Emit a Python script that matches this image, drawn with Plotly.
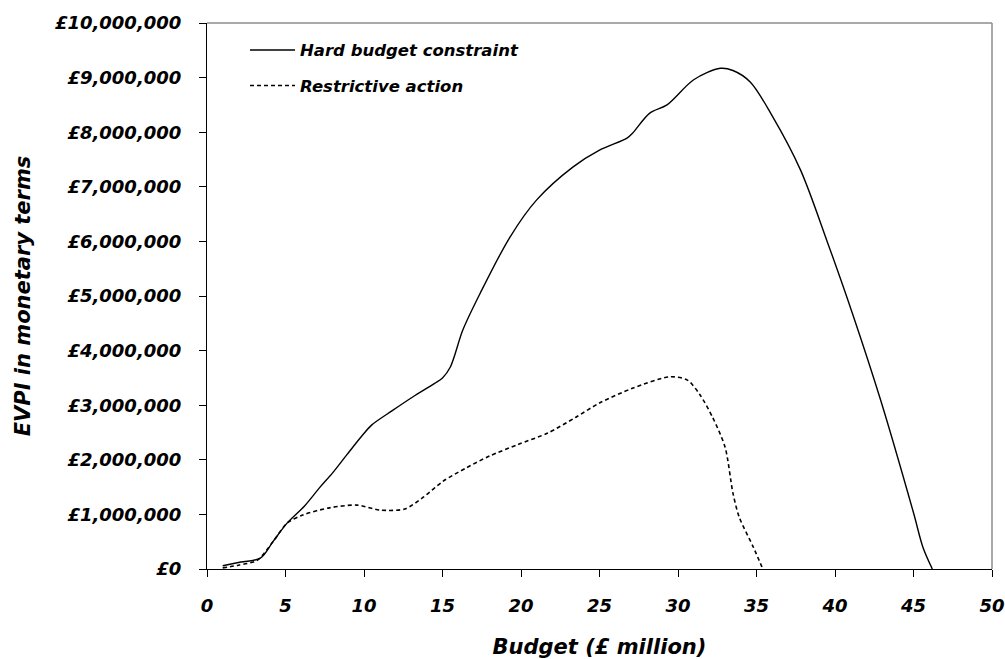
import plotly.graph_objects as go
import numpy as np

# Budget (£ million) and EVPI (£ million)
hard_x = [1.0, 2.0, 3.4, 4.2, 5.1, 6.2, 7.2, 8.0, 8.9, 9.9, 10.5, 11.8, 13.1, 14.5, 15.0,
          15.5, 16.3, 17.4, 19.3, 21.0, 23.3, 25.0, 26.75, 27.1, 28.2, 29.3, 31.0, 32.7,
          33.5, 34.6, 36.0, 37.8, 39.5, 41.1, 42.9, 45.0, 45.6, 46.2]
hard_y = [0.06, 0.12, 0.2, 0.5, 0.84, 1.15, 1.5, 1.76, 2.09, 2.45, 2.64, 2.9, 3.15, 3.4, 3.5,
          3.7, 4.38, 5.05, 6.08, 6.76, 7.36, 7.67, 7.89, 7.98, 8.35, 8.5, 8.96, 9.17,
          9.13, 8.92, 8.3, 7.31, 6.0, 4.69, 3.1, 1.03, 0.4, 0.0]

restr_x = [1.0, 2.0, 3.2, 4.2, 5.1, 6.1, 7.8, 9.55, 11.0, 12.6, 13.8, 15.0, 16.5, 18.0, 19.8,
           21.7, 23.5, 25.0, 27.1, 29.5, 30.6, 31.4, 32.2, 33.0, 33.5, 33.9, 34.8, 35.4]
restr_y = [0.02, 0.07, 0.16, 0.5, 0.84, 0.99, 1.12, 1.17, 1.08, 1.1, 1.32, 1.6, 1.85, 2.07, 2.28,
           2.49, 2.78, 3.04, 3.31, 3.52, 3.46, 3.19, 2.78, 2.23, 1.39, 0.95, 0.4, 0.0]

series_names = ["Hard budget constraint", "Restrictive action"]
x_ticks = [0, 5, 10, 15, 20, 25, 30, 35, 40, 45, 50]
y_ticks = [0, 1e6, 2e6, 3e6, 4e6, 5e6, 6e6, 7e6, 8e6, 9e6, 10e6]
y_tick_labels = ["£0", "£1,000,000", "£2,000,000", "£3,000,000", "£4,000,000", "£5,000,000",
                 "£6,000,000", "£7,000,000", "£8,000,000", "£9,000,000", "£10,000,000"]

FONT = "DejaVu Sans"


def bi(size):
    return dict(family=FONT, size=size, color="black", weight="bold", style="italic")


fig = go.Figure()
fig.add_trace(go.Scatter(
    x=hard_x, y=np.array(hard_y) * 1e6, mode="lines", name=series_names[0],
    legendgroup="a",
    line=dict(color="black", width=1.4, shape="spline", smoothing=0.9),
))
fig.add_trace(go.Scatter(
    x=restr_x, y=np.array(restr_y) * 1e6, mode="lines", name=series_names[1],
    legendgroup="b",
    line=dict(color="black", width=1.6, dash="4px,3px", shape="spline", smoothing=0.8),
))

fig.update_layout(
    width=1005, height=659,
    paper_bgcolor="white", plot_bgcolor="white",
    margin=dict(l=207, r=13, t=23, b=90),
    font=bi(16),
    showlegend=True,
    legend=dict(
        x=0.0484, y=0.982, xanchor="left", yanchor="top",
        bgcolor="rgba(0,0,0,0)", font=bi(16.5),
        traceorder="grouped", tracegroupgap=11,
        itemwidth=45,
    ),
    xaxis=dict(
        range=[0, 50], tickvals=x_ticks, ticktext=[str(v) for v in x_ticks],
        showgrid=False, zeroline=False, automargin=False,
        showline=True, linecolor="black", linewidth=1.2,
        ticks="outside", ticklen=7, tickcolor="black", tickwidth=1.2,
        tickfont=bi(18), ticklabelstandoff=13,
        title=dict(text="Budget (£ million)", font=bi(21), standoff=30),
    ),
    yaxis=dict(
        range=[0, 10e6], tickvals=y_ticks, ticktext=y_tick_labels,
        showgrid=False, zeroline=False, automargin=False,
        showline=True, linecolor="black", linewidth=1.2,
        ticks="outside", ticklen=7, tickcolor="black", tickwidth=1.2,
        tickfont=bi(18), ticklabelstandoff=14,
        title=dict(text="EVPI in monetary terms", font=bi(21), standoff=18),
    ),
    shapes=[
        dict(type="line", xref="paper", yref="paper", x0=0, x1=1, y0=1, y1=1,
             line=dict(color="#8c8c8c", width=1.5)),
        dict(type="line", xref="paper", yref="paper", x0=1, x1=1, y0=0, y1=1,
             line=dict(color="#8c8c8c", width=1.5)),
    ],
)

fig.write_html("out.html", config={"displayModeBar": False},
               post_script="document.body.style.margin='0px';")
